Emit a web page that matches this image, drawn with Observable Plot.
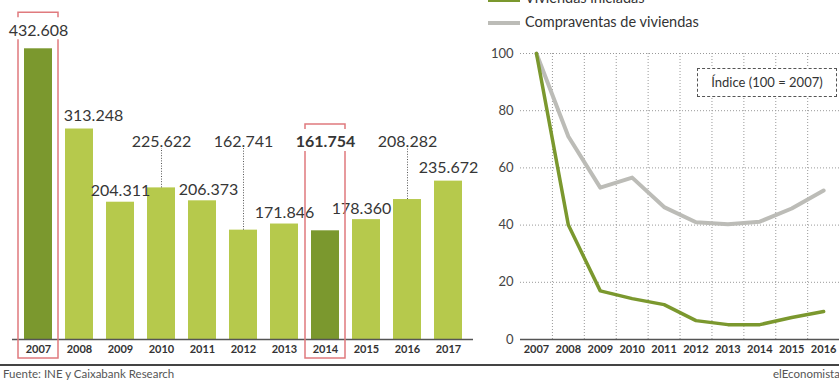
<!DOCTYPE html>
<html>
<head>
<meta charset="utf-8">
<script src="https://cdn.jsdelivr.net/npm/d3@7"></script>
<script src="https://cdn.jsdelivr.net/npm/@observablehq/plot@0.6"></script>
<style>
  html, body { margin: 0; padding: 0; background: #fff; }
  #root { position: relative; width: 839px; height: 381px; overflow: hidden; background: #fff; font-family: Lato, "Open Sans", sans-serif; color: #333; }
  #root svg { position: absolute; top: 0; background: transparent; overflow: visible; max-width: none; }
  .abs { position: absolute; white-space: nowrap; }
  .sw { position: absolute; height: 4px; }
</style>
</head>
<body>
<div id="root"></div>
<script>
// ---- data ----
const years = [2007, 2008, 2009, 2010, 2011, 2012, 2013, 2014, 2015, 2016, 2017];
const ventas = [432608, 313248, 204311, 225622, 206373, 162741, 171846, 161754, 178360, 208282, 235672];
const highlightYears = [2007, 2014];
const raisedYears = [2010, 2012, 2014, 2016];
const leaderYears = [2010, 2012, 2016];

const indexYears = [2007, 2008, 2009, 2010, 2011, 2012, 2013, 2014, 2015, 2016];
const iniciadas = [100, 40, 17, 14.3, 12.2, 6.6, 5.2, 5.2, 7.7, 9.8];
const compraventas = [100, 71, 53.1, 56.6, 46.3, 41, 40.3, 41.2, 45.8, 52.1];
const yTicks = [0, 20, 40, 60, 80, 100];

const legendLabels = ["Viviendas iniciadas", "Compraventas de viviendas"];
const indexLabel = "Índice (100 = 2007)";
const sourceLabel = "Fuente: INE y Caixabank Research";
const brandLabel = "elEconomista";

// ---- styling ----
const DARK = "#7b982e", LIGHT = "#b6c94c", GRAY = "#bcbcb7", RED = "#e07a7e";
const FONT = "Lato, 'Open Sans', sans-serif";
const Y_MAX = 439000;             // top of the bar scale (data units)
const LEVEL = 276800;             // common level for raised labels (data units)
const nudge = {2007: [0, -7], 2008: [14, -2], 2011: [6, 0], 2015: [-5, 0], 2017: [0, -2]};

const es = d3.formatLocale({decimal: ",", thousands: ".", grouping: [3], currency: ["", "€"]});
const fmt = es.format(",");

const table = years.map((year, i) => ({
  year, value: ventas[i],
  hi: highlightYears.includes(year),
  raised: raisedYears.includes(year),
  label: fmt(ventas[i])
}));
const normal = table.filter(d => d.year !== 2014);
const boldOnes = table.filter(d => d.year === 2014);
const leaders = table.filter(d => leaderYears.includes(d.year));

const root = document.getElementById("root");

const textOpts = (extra) => Object.assign({
  x: "year",
  y: d => d.raised ? LEVEL : d.value,
  text: "label",
  lineAnchor: "bottom",
  fontSize: 16,
  fill: "#363636",
  fontFamily: FONT
}, extra);

const nd = (y) => nudge[y] || [0, 0];

const left = Plot.plot({
  width: 480, height: 381,
  marginTop: 44, marginBottom: 42, marginLeft: 12, marginRight: 7,
  style: {background: "transparent", fontFamily: FONT},
  x: {type: "band", domain: years, paddingInner: 0.32, paddingOuter: 0.27, axis: null},
  y: {domain: [0, Y_MAX], axis: null},
  marks: [
    Plot.barY(table, {x: "year", y: "value", fill: d => d.hi ? DARK : LIGHT}),
    Plot.ruleY([0], {stroke: "#555", strokeWidth: 1.5}),
    Plot.axisX({tickSize: 0, tickPadding: 6, tickFormat: d => String(d), label: null, fontSize: 11, fontWeight: 700, fill: "#333", fontFamily: FONT}),
    Plot.ruleX(leaders, {x: "year", y1: "value", y2: LEVEL, stroke: "#555", strokeWidth: 1, strokeDasharray: "1,1.6", insetBottom: 5}),
    ...normal.map(d => Plot.text([d], textOpts({
      dx: nd(d.year)[0],
      dy: -6 + nd(d.year)[1],
      fontWeight: 400
    }))),
    Plot.text(boldOnes, textOpts({dy: -6, fontWeight: 700}))
  ]
});
left.style.left = "0px";
root.appendChild(left);

// red highlight boxes, positioned from the plot's scales
{
  const xs = left.scale("x"), ys = left.scale("y");
  const bw = xs.bandwidth;
  const svg = d3.select(left);
  for (const d of table.filter(d => d.hi)) {
    const x0 = xs.apply(d.year) - 6, x1 = xs.apply(d.year) + bw + 6;
    const base = ys.apply(d.raised ? LEVEL : d.value) - 6 + (d.raised ? 0 : nd(d.year)[1]);
    const top = base - 23, gapEnd = base + 4, bottom = ys.apply(0) + 19;
    const p = `M${x0},${top + 5}V${top}H${x1}V${top + 5}M${x0},${gapEnd}V${bottom}H${x1}V${gapEnd}`;
    svg.append("path").attr("d", p).attr("fill", "none").attr("stroke", RED).attr("stroke-width", 1.5);
  }
}

const idxData = indexYears.flatMap((year, i) => [
  {year, v: compraventas[i], s: legendLabels[1]},
  {year, v: iniciadas[i], s: legendLabels[0]}
]);

const right = Plot.plot({
  width: 401, height: 381,
  marginTop: 53, marginBottom: 42, marginLeft: 50, marginRight: 0,
  style: {background: "transparent", fontFamily: FONT},
  x: {domain: [indexYears[0] - 0.5, years[years.length - 1] + 0.5], axis: null},
  y: {domain: [0, 100], axis: null},
  marks: [
    Plot.gridY(yTicks.slice(1), {stroke: "#999", strokeOpacity: 1, strokeDasharray: "1,2"}),
    Plot.ruleX(indexYears.map(y => y + 0.5), {y1: 0, y2: 100, stroke: "#999", strokeDasharray: "1,2"}),
    Plot.ruleY([0], {stroke: "#555", strokeWidth: 1.5}),
    Plot.axisY(yTicks, {tickSize: 0, tickPadding: 7, label: null, fontSize: 13, fill: "#444", fontFamily: FONT}),
    Plot.axisX(indexYears, {tickSize: 0, tickPadding: 6, label: null, tickFormat: d => String(d), fontSize: 11, fontWeight: 700, fill: "#333", fontFamily: FONT}),
    Plot.line(idxData.filter(d => d.s === legendLabels[1]), {x: "year", y: "v", stroke: GRAY, strokeWidth: 4}),
    Plot.line(idxData.filter(d => d.s === legendLabels[0]), {x: "year", y: "v", stroke: DARK, strokeWidth: 3.5})
  ]
});
right.style.left = "470px";
root.appendChild(right);

// legend
function add(txt, css) {
  const el = document.createElement("div");
  el.className = "abs";
  el.textContent = txt;
  Object.assign(el.style, css);
  root.appendChild(el);
  return el;
}
function swatch(color, l, t) {
  const el = document.createElement("div");
  el.className = "sw";
  Object.assign(el.style, {left: l + "px", top: t + "px", width: "32px", background: color});
  root.appendChild(el);
}
swatch(DARK, 488, -2);
add(legendLabels[0], {left: "525px", top: "-11px", fontSize: "14.5px", lineHeight: "18px", color: "#333"});
swatch(GRAY, 488, 21);
add(legendLabels[1], {left: "525px", top: "13px", fontSize: "14.5px", lineHeight: "18px", color: "#333"});

add(indexLabel, {left: "697px", top: "68px", width: "138px", height: "27px", lineHeight: "27px",
  textAlign: "center", fontSize: "13px", color: "#333", border: "1.5px dashed #555", background: "#fff"});

// footer
const rule = document.createElement("div");
Object.assign(rule.style, {position: "absolute", left: "0px", top: "364px", width: "839px", height: "2px", background: "#444"});
root.appendChild(rule);
add(sourceLabel, {left: "3px", top: "367px", fontSize: "11.5px", lineHeight: "14px", color: "#555"});
add(brandLabel, {left: "773px", top: "367px", fontSize: "11.5px", lineHeight: "14px", color: "#555"});
</script>
</body>
</html>
